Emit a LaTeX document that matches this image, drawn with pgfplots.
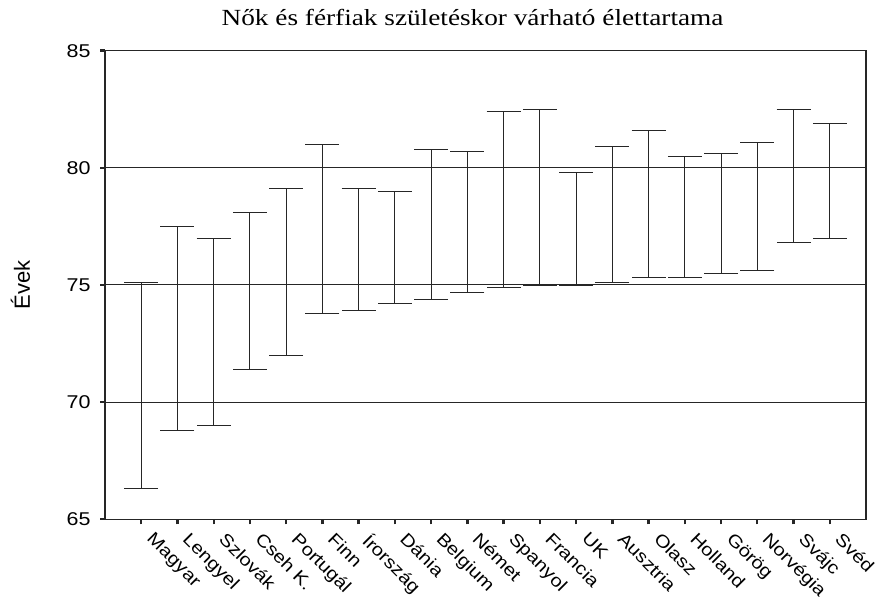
\documentclass[border=0pt]{standalone}
\usepackage{pgfplots}
\pgfplotsset{compat=1.18}
\usepackage{pgfplotstable}
\usepackage{fontspec}
\setmainfont{Liberation Sans}[FakeStretch=1.16]
\newfontfamily\plainsans{Liberation Sans}
\newfontfamily\titlefont{Liberation Serif}[FakeStretch=1.18]

\pgfplotstableread{
idx lo hi
0 66.3 75.1
1 68.8 77.5
2 69.0 77.0
3 71.4 78.1
4 72.0 79.1
5 73.8 81.0
6 73.9 79.1
7 74.2 79.0
8 74.4 80.8
9 74.7 80.7
10 74.9 82.4
11 75.0 82.5
12 75.0 79.8
13 75.1 80.9
14 75.3 81.6
15 75.3 80.5
16 75.5 80.6
17 75.6 81.1
18 76.8 82.5
19 77.0 81.9
}\lifedata

\begin{document}
\begin{tikzpicture}
\useasboundingbox (0pt,0pt) rectangle (881pt,604pt);
\begin{axis}[
  at={(105pt,84.7pt)}, anchor=south west,
  scale only axis, width=761pt, height=468.6pt,
  xmin=-1, xmax=20, ymin=65, ymax=85,
  ytick={65,70,75,80,85},
  xtick={0,...,19},
  xticklabels={Magyar,Lengyel,Szlovák,Cseh K.,Portugál,Finn,Írország,Dánia,Belgium,Német,Spanyol,Francia,UK,Ausztria,Olasz,Holland,Görög,Norvégia,Svájc,Svéd},
  xtick pos=lower, ytick pos=left,
  tick align=outside, major tick length=5pt,
  tick style={black!85, line width=2.4pt},
  axis line style={black!85, line width=1.1pt},
  ymajorgrids, grid style={black!85, line width=1pt},
  x tick label style={rotate=-45, anchor=north west, font=\fontsize{17.5}{17.5}\selectfont, xshift=11pt, yshift=8pt},
  y tick label style={font=\fontsize{18.5}{18.5}\selectfont, xshift=-6pt},
  /pgf/number format/assume math mode=true,
  ylabel={Évek},
  ylabel style={at={(axis description cs:-0.111,0.5)}, anchor=center, font=\plainsans\fontsize{22}{22}\selectfont},
  title={Nők és férfiak születéskor várható élettartama},
  title style={at={(axis description cs:0.483,1)}, anchor=base, yshift=19pt, font=\titlefont\fontsize{23.1}{23.1}\selectfont},
]
\addplot[black!85, mark=none, draw=none,
  error bars/.cd, y dir=both, y explicit,
  error bar style={black!85, line width=1pt},
  error mark=|,
  error mark options={mark size=17pt, line width=1pt, black!85}]
  table[x=idx, y expr={(\thisrow{lo}+\thisrow{hi})/2}, y error expr={(\thisrow{hi}-\thisrow{lo})/2}] {\lifedata};
\end{axis}
\end{tikzpicture}
\end{document}
